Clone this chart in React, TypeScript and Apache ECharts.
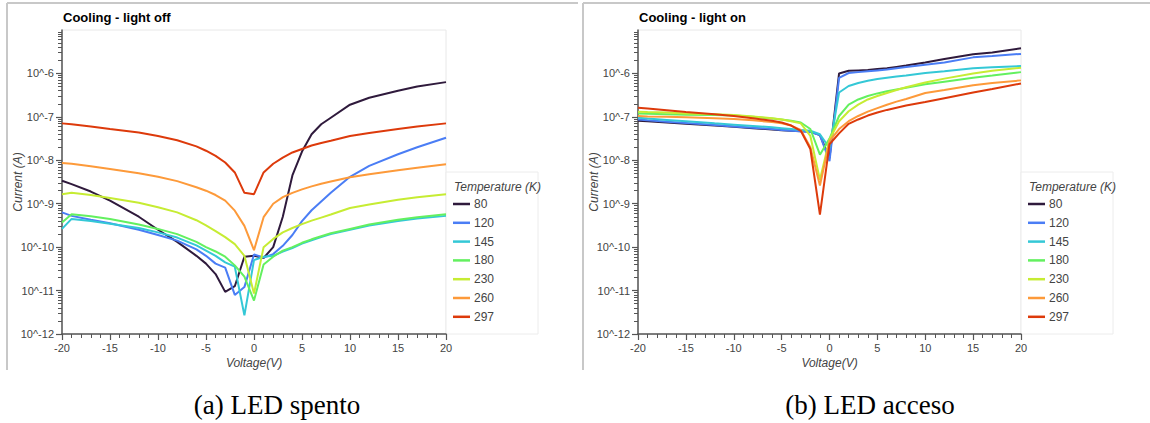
import React, { useEffect, useRef } from "react";
import * as echarts from "echarts";

// Voltage sample points (V)
const voltages = [-20, -19, -17, -15, -12, -10, -8, -6, -5, -4, -3, -2, -1, 0, 1, 2, 3, 4, 5, 6, 7, 8, 10, 12, 15, 17, 20];

const temperatures = ["80", "120", "145", "180", "230", "260", "297"];
const colors = ["#2f1a3c", "#4a7df5", "#34c8d6", "#63f05f", "#c6ec33", "#fd9a3a", "#dd3a0b"];

// log10 of current (A), light off
const off80 = [-8.47, -8.55, -8.72, -8.93, -9.3, -9.6, -9.88, -10.2, -10.38, -10.62, -11.03, -10.9, -10.22, -10.2, -10.25, -10.0, -9.3, -8.35, -7.8, -7.4, -7.17, -7.02, -6.72, -6.56, -6.4, -6.3, -6.2];
const off120 = [-9.2, -9.28, -9.37, -9.45, -9.6, -9.72, -9.85, -10.05, -10.2, -10.38, -10.47, -11.1, -10.92, -10.17, -10.24, -10.16, -9.97, -9.72, -9.4, -9.15, -8.95, -8.75, -8.38, -8.13, -7.86, -7.7, -7.48];
const off145 = [-9.58, -9.35, -9.4, -9.46, -9.56, -9.66, -9.78, -9.96, -10.08, -10.2, -10.35, -10.45, -11.57, -10.3, -10.22, -10.2, -10.1, -10.02, -9.92, -9.84, -9.77, -9.7, -9.6, -9.5, -9.4, -9.34, -9.28];
const off180 = [-9.43, -9.24, -9.29, -9.35, -9.48, -9.58, -9.7, -9.88, -10.0, -10.1, -10.22, -10.42, -10.68, -11.23, -10.4, -10.22, -10.08, -10.0, -9.9, -9.82, -9.75, -9.68, -9.58, -9.48, -9.37, -9.31, -9.24];
const off230 = [-8.78, -8.75, -8.8, -8.87, -8.98, -9.08, -9.2, -9.38, -9.5, -9.63, -9.77, -9.93, -10.2, -11.07, -10.0, -9.81, -9.66, -9.56, -9.47, -9.39, -9.32, -9.25, -9.1, -9.02, -8.91, -8.85, -8.78];
const off260 = [-8.06, -8.08, -8.14, -8.2, -8.3, -8.38, -8.48, -8.62, -8.7, -8.8, -8.93, -9.16, -9.51, -10.07, -9.31, -9.0, -8.85, -8.75, -8.67, -8.6, -8.54, -8.49, -8.39, -8.32, -8.23, -8.17, -8.09];
const off297 = [-7.15, -7.17, -7.22, -7.28, -7.36, -7.44, -7.54, -7.68, -7.78, -7.9, -8.05, -8.28, -8.75, -8.78, -8.28, -8.08, -7.94, -7.82, -7.74, -7.66, -7.6, -7.55, -7.44, -7.37, -7.28, -7.22, -7.15];

// log10 of current (A), light on
const on80 = [-7.09, -7.1, -7.13, -7.16, -7.2, -7.23, -7.26, -7.29, -7.31, -7.32, -7.33, -7.34, -7.42, -7.95, -6.0, -5.94, -5.93, -5.92, -5.9, -5.88, -5.85, -5.82, -5.75, -5.67, -5.56, -5.52, -5.42];
const on120 = [-7.06, -7.08, -7.11, -7.14, -7.19, -7.22, -7.25, -7.28, -7.3, -7.32, -7.33, -7.35, -7.42, -8.02, -6.1, -5.99, -5.97, -5.95, -5.93, -5.91, -5.88, -5.85, -5.8, -5.75, -5.63, -5.6, -5.55];
const on145 = [-7.02, -7.04, -7.07, -7.1, -7.15, -7.18, -7.21, -7.24, -7.26, -7.28, -7.3, -7.32, -7.4, -7.72, -6.44, -6.29, -6.22, -6.17, -6.13, -6.1, -6.07, -6.05, -5.99, -5.95, -5.88, -5.86, -5.83];
const on180 = [-6.92, -6.93, -6.94, -6.95, -6.96, -6.97, -7.0, -7.04, -7.06, -7.09, -7.13, -7.28, -7.87, -7.5, -6.98, -6.72, -6.6, -6.52, -6.46, -6.41, -6.37, -6.33, -6.25, -6.19, -6.1, -6.05, -5.97];
const on230 = [-6.88, -6.89, -6.9, -6.92, -6.94, -6.96, -6.99, -7.03, -7.06, -7.1, -7.15, -7.44, -8.45, -7.52, -7.1, -6.87, -6.72, -6.6, -6.52, -6.45, -6.38, -6.32, -6.21, -6.12, -6.0, -5.94, -5.87];
const on260 = [-6.98, -6.99, -7.0, -7.01, -7.03, -7.05, -7.08, -7.12, -7.15, -7.2, -7.3, -7.7, -8.58, -7.56, -7.28, -7.1, -6.98, -6.88, -6.8, -6.72, -6.65, -6.59, -6.45, -6.38, -6.27, -6.22, -6.16];
const on297 = [-6.79, -6.81, -6.85, -6.89, -6.94, -6.98, -7.03, -7.09, -7.13, -7.2, -7.32, -7.74, -9.25, -7.63, -7.38, -7.16, -7.06, -6.97, -6.9, -6.84, -6.79, -6.74, -6.66, -6.57, -6.44, -6.36, -6.23];

const offSeries = [off80, off120, off145, off180, off230, off260, off297];
const onSeries = [on80, on120, on145, on180, on230, on260, on297];

const titles = ["Cooling - light off", "Cooling - light on"];
const captions = ["(a) LED spento", "(b) LED acceso"];
const xTitle = "Voltage(V)";
const yTitle = "Current (A)";
const legendTitle = "Temperature (K)";

const decades = [-12, -11, -10, -9, -8, -7, -6];
const majorValues = decades.map((d) => Math.pow(10, d));
const minorValues: number[] = [];
decades.forEach((d) => {
  for (let k = 2; k <= 9; k++) minorValues.push(k * Math.pow(10, d));
});

const FONT = "'Liberation Sans', Arial, Helvetica, sans-serif";

export default function App() {
  const ref = useRef<HTMLDivElement>(null);
  useEffect(() => {
    if (!ref.current) return;
    const chart = echarts.init(ref.current, null, { renderer: "svg" });

    const grids = [
      { left: 62, top: 30, width: 384, height: 304 },
      { left: 638, top: 30, width: 383, height: 304 },
    ];

    const xAxes = grids.map((_, i) => ({
      type: "value",
      gridIndex: i,
      min: -20,
      max: 20,
      interval: 5,
      name: xTitle,
      nameLocation: "middle",
      nameGap: 23,
      nameMoveOverlap: false,
      nameTextStyle: { fontStyle: "italic", fontSize: 12, color: "#444", fontFamily: FONT },
      axisLine: { show: true, onZero: false, lineStyle: { color: "#555", width: 1.5 } },
      axisTick: { show: true, length: 6, lineStyle: { color: "#555", width: 1.2 } },
      minorTick: { show: true, splitNumber: 5, length: 4, lineStyle: { color: "#555", width: 1 } },
      axisLabel: { color: "#444", fontSize: 11, fontFamily: FONT, margin: 8 },
      splitLine: { show: false },
      minorSplitLine: { show: false },
    }));

    const yAxes: any[] = [];
    grids.forEach((_, i) => {
      yAxes.push({
        type: "log",
        logBase: 10,
        gridIndex: i,
        min: 1e-12,
        max: 1e-5,
        position: "left",
        name: yTitle,
        nameLocation: "middle",
        nameGap: 38,
        nameMoveOverlap: false,
        nameTextStyle: { fontStyle: "italic", fontSize: 12, color: "#444", fontFamily: FONT },
        axisLine: { show: true, onZero: false, lineStyle: { color: "#555", width: 1.5 } },
        axisTick: { show: true, length: 6, customValues: majorValues, lineStyle: { color: "#555", width: 1.2 } },
        axisLabel: {
          color: "#444",
          fontSize: 11,
          fontFamily: FONT,
          margin: 8,
          customValues: majorValues,
          formatter: (v: number) => "10^" + Math.round(Math.log10(v)),
        },
        splitLine: { show: false },
      });
      yAxes.push({
        type: "log",
        logBase: 10,
        gridIndex: i,
        min: 1e-12,
        max: 1e-5,
        position: "left",
        offset: 0,
        axisLine: { show: false, onZero: false },
        axisTick: { show: true, length: 4, customValues: minorValues, lineStyle: { color: "#555", width: 1 } },
        axisLabel: { show: false },
        splitLine: { show: false },
      });
    });

    const series: any[] = [];
    [offSeries, onSeries].forEach((set, gi) => {
      set.forEach((logs, si) => {
        series.push({
          type: "line",
          name: temperatures[si],
          xAxisIndex: gi,
          yAxisIndex: gi * 2,
          showSymbol: false,
          symbol: "none",
          lineStyle: { width: 2, color: colors[si] },
          itemStyle: { color: colors[si] },
          data: voltages.map((v, k) => [v, Math.pow(10, logs[k])]),
        });
      });
    });

    const legendBoxes = [446, 1021];

    const graphic: any[] = [
      // panel frames
      { type: "line", shape: { x1: 7, y1: 3, x2: 578, y2: 3 }, style: { stroke: "#c8c8c8", lineWidth: 2 } },
      { type: "line", shape: { x1: 7, y1: 3, x2: 7, y2: 370 }, style: { stroke: "#c8c8c8", lineWidth: 2 } },
      { type: "line", shape: { x1: 583, y1: 3, x2: 1150, y2: 3 }, style: { stroke: "#c8c8c8", lineWidth: 2 } },
      { type: "line", shape: { x1: 583, y1: 3, x2: 583, y2: 370 }, style: { stroke: "#c8c8c8", lineWidth: 2 } },
    ];
    legendBoxes.forEach((x) => {
      graphic.push({
        type: "rect",
        z: 0,
        shape: { x: x, y: 172, width: 92, height: 162 },
        style: { fill: "#fff", stroke: "#ececec", lineWidth: 1 },
      });
      graphic.push({
        type: "text",
        z: 1,
        x: x + 8,
        y: 187,
        style: {
          text: legendTitle,
          fontFamily: FONT,
          fontStyle: "italic",
          fontSize: 12,
          fill: "#444",
          textVerticalAlign: "middle",
        },
      });
    });
    [277, 870].forEach((cx, i) => {
      graphic.push({
        type: "text",
        x: cx,
        y: 405,
        style: {
          text: captions[i],
          fontFamily: "'Liberation Serif', 'DejaVu Serif', serif",
          fontSize: 27,
          fill: "#000",
          textAlign: "center",
          textVerticalAlign: "middle",
        },
      });
    });

    const legends = legendBoxes.map((x) => ({
      orient: "vertical",
      left: x + 7,
      top: 198,
      padding: 0,
      data: temperatures,
      icon: "rect",
      itemWidth: 17,
      itemHeight: 2.5,
      itemGap: 6.8,
      selectedMode: false,
      textStyle: { color: "#444", fontSize: 12, fontFamily: FONT, lineHeight: 12, padding: [0, 0, 0, -1] },
    }));

    chart.setOption({
      animation: false,
      backgroundColor: "#fff",
      title: grids.map((g, i) => ({
        text: titles[i],
        left: g.left + 1,
        top: 11,
        padding: 0,
        textStyle: { fontSize: 13, fontWeight: "bold", color: "#000", fontFamily: FONT },
      })),
      grid: grids.map((g) => ({ ...g, show: true, borderColor: "#e8e8e8", borderWidth: 1, backgroundColor: "transparent" })),
      xAxis: xAxes,
      yAxis: yAxes,
      legend: legends,
      series,
      graphic,
    });
    return () => chart.dispose();
  }, []);
  return <div ref={ref} style={{ position: "absolute", left: 0, top: 0, width: 1150, height: 423 }} />;
}
